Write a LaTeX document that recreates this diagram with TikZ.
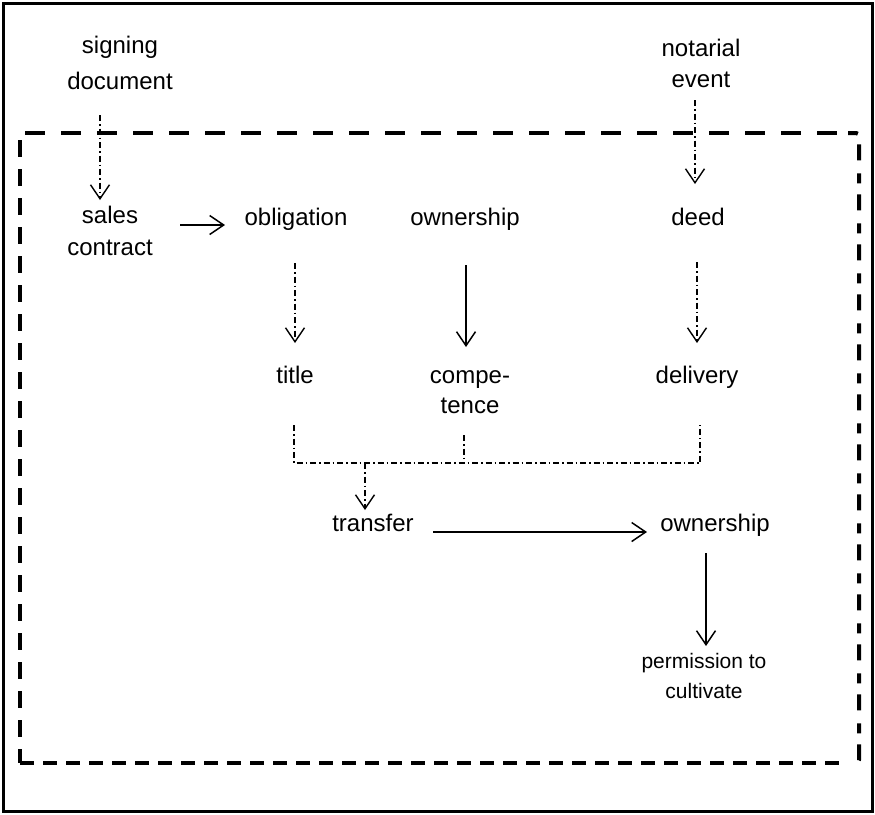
\documentclass[tikz,border=0pt]{standalone}
\usepackage{fontspec}
\setmainfont{Liberation Sans}
\usetikzlibrary{arrows.meta}
\begin{document}
\begin{tikzpicture}[x=1pt,y=-1pt,
  lbl/.style={inner sep=0pt,align=center,anchor=base,font=\fontsize{24}{31}\selectfont},
  small/.style={lbl,font=\fontsize{21}{30}\selectfont},
  solidarrow/.style={line width=1.5pt,-{Straight Barb[length=14pt,width=19pt,line width=1.5pt]}},
  dotarrow/.style={line width=1.4pt,dash pattern=on 6pt off 3pt on 1.5pt off 3pt,-{Straight Barb[length=14pt,width=19pt,line width=1.4pt]}},
  dotline/.style={line width=1.4pt,dash pattern=on 6pt off 3pt on 1.5pt off 3pt},
  bigdash/.style={line width=4pt}]
\useasboundingbox (0,0) rectangle (875,814);
\fill[white] (0,0) rectangle (875,814);
% outer frame
\draw[line width=3pt] (3,3) rectangle (872,811);
% dashed frame
\draw[bigdash,dash pattern=on 20pt off 16pt] (25,133) -- (852,133);
\draw[bigdash,line join=round,rounded corners=3pt,dash pattern=on 10pt off 11pt on 16pt off 13pt] (848,133) -- (859,133) -- (859,763) -- (848,763);
\draw[bigdash,dash pattern=on 17pt off 12pt] (20,140) -- (20,763);
\draw[bigdash,dash pattern=on 14pt off 9pt] (20,763) -- (846,763);
% labels (anchor = baseline of last line)
\node[lbl] (sign) at (120,89) {signing\\[5pt]document};
\node[lbl] (nota) at (701,87) {notarial\\event};
\node[lbl] (sales) at (110,255) {sales\\[1pt]contract};
\node[lbl] (oblig) at (296,225) {obligation};
\node[lbl] (own1) at (465,225) {ownership};
\node[lbl] (deed) at (698,225) {deed};
\node[lbl] (title) at (295,383) {title};
\node[lbl] (comp) at (470,413) {compe-\\[-1pt]tence};
\node[lbl] (deliv) at (697,383) {delivery};
\node[lbl] (trans) at (373,531) {transfer};
\node[lbl] (own2) at (715,531) {ownership};
\node[small] (perm) at (704,698) {permission to\\cultivate};
% coordinates for connectors
\coordinate (a1s) at (100,115); \coordinate (a1e) at (100,200);
\coordinate (a2s) at (695,100); \coordinate (a2e) at (695,184);
\coordinate (a3s) at (180,225); \coordinate (a3e) at (225,225);
\coordinate (a4s) at (295,263); \coordinate (a4e) at (295,343);
\coordinate (a5s) at (466,265); \coordinate (a5e) at (466,347);
\coordinate (a6s) at (697,262); \coordinate (a6e) at (697,343);
\coordinate (bl) at (294,425); \coordinate (blb) at (294,463);
\coordinate (bm) at (464,435); \coordinate (bmb) at (464,463);
\coordinate (br) at (700,425); \coordinate (brb) at (700,463);
\coordinate (bd) at (365,463); \coordinate (bde) at (365,510);
\coordinate (a7s) at (433,532); \coordinate (a7e) at (647,532);
\coordinate (a8s) at (706,553); \coordinate (a8e) at (706,646);
% connectors
\draw[dotarrow] (a1s) -- (a1e);
\draw[dotarrow] (a2s) -- (a2e);
\draw[solidarrow] (a3s) -- (a3e);
\draw[dotarrow] (a4s) -- (a4e);
\draw[solidarrow] (a5s) -- (a5e);
\draw[dotarrow] (a6s) -- (a6e);
\draw[dotline] (bl) -- (blb) -- (brb) -- (br);
\draw[dotline] (bm) -- (bmb);
\draw[dotarrow] (bd) -- (bde);
\draw[solidarrow] (a7s) -- (a7e);
\draw[solidarrow] (a8s) -- (a8e);
\end{tikzpicture}
\end{document}
